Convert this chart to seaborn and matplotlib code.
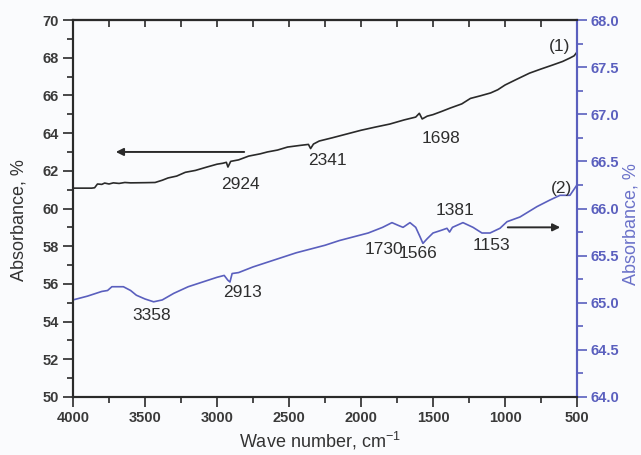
import matplotlib
matplotlib.use("Agg")
import matplotlib.pyplot as plt
import seaborn as sns
import pandas as pd
from matplotlib.ticker import MultipleLocator, FormatStrFormatter

# Spectrum (1): wavenumber (cm-1) and absorbance (%), left axis
wn_1 = [4000, 3870, 3850, 3830, 3800, 3780, 3750, 3720, 3680, 3640, 3600, 3500,
        3430, 3380, 3340, 3280, 3220, 3150, 3070, 3000, 2960, 2935, 2924, 2905,
        2850, 2780, 2700, 2650, 2580, 2510, 2420, 2365, 2350, 2330, 2290, 2200,
        2100, 2000, 1900, 1800, 1700, 1620, 1595, 1575, 1540, 1500, 1440, 1380,
        1300, 1240, 1170, 1100, 1050, 1000, 920, 830, 750, 670, 600, 550, 520, 500]
ab_1 = [61.08, 61.08, 61.10, 61.30, 61.28, 61.35, 61.30, 61.36, 61.33, 61.38, 61.36, 61.37,
        61.38, 61.50, 61.62, 61.72, 61.92, 62.02, 62.20, 62.35, 62.40, 62.45, 62.20, 62.50,
        62.58, 62.78, 62.90, 63.00, 63.10, 63.26, 63.35, 63.40, 63.18, 63.42, 63.58, 63.75,
        63.95, 64.15, 64.32, 64.48, 64.70, 64.85, 65.05, 64.75, 64.90, 64.98, 65.15, 65.33,
        65.55, 65.84, 65.98, 66.13, 66.30, 66.55, 66.85, 67.18, 67.40, 67.61, 67.80, 67.98, 68.10, 68.30]

# Spectrum (2): wavenumber (cm-1) and absorbance (%), right axis
wn_2 = [4000, 3900, 3800, 3760, 3730, 3650, 3600, 3560, 3500, 3440, 3380, 3300,
        3200, 3100, 3000, 2950, 2925, 2910, 2895, 2850, 2750, 2650, 2550, 2450,
        2350, 2250, 2150, 2050, 1950, 1850, 1785, 1740, 1708, 1660, 1620, 1590,
        1570, 1540, 1500, 1440, 1403, 1385, 1365, 1292, 1222, 1160, 1104, 1035,
        986, 896, 778, 688, 618, 549, 500]
ab_2 = [65.03, 65.07, 65.12, 65.13, 65.17, 65.17, 65.13, 65.08, 65.04, 65.01, 65.03, 65.10,
        65.17, 65.22, 65.27, 65.29, 65.24, 65.22, 65.31, 65.32, 65.38, 65.43, 65.48, 65.53,
        65.57, 65.61, 65.66, 65.70, 65.74, 65.80, 65.85, 65.82, 65.80, 65.85, 65.80, 65.70,
        65.63, 65.68, 65.74, 65.77, 65.79, 65.75, 65.80, 65.85, 65.80, 65.74, 65.74, 65.79,
        65.86, 65.91, 66.02, 66.09, 66.14, 66.14, 66.25]

# Band labels: text, wavenumber position, absorbance position
bands_1 = ["2924", "2341", "1698", "(1)"]
bands_1_x = [2840, 2236, 1445, 618]
bands_1_y = [61.25, 62.57, 63.74, 68.62]

bands_2 = ["3358", "2913", "1730", "1566", "1381", "1153", "(2)"]
bands_2_x = [3451, 2820, 1840, 1604, 1347, 1097, 611]
bands_2_y = [64.86, 65.11, 65.57, 65.52, 65.98, 65.61, 66.21]

BLUE = "#5a5fbe"
DARK = "#2a2a2a"
BG = "#fafbfd"

sns.set_theme(style="white")
plt.rcParams["font.family"] = ["Liberation Sans", "DejaVu Sans"]

df1 = pd.DataFrame({"wn": wn_1, "ab": ab_1})
df2 = pd.DataFrame({"wn": wn_2, "ab": ab_2})

fig = plt.figure(figsize=(6.41, 4.55), dpi=100, facecolor=BG)
ax = fig.add_axes([73 / 641, 1 - 397 / 455, 504 / 641, 377 / 455])
ax.set_facecolor(BG)
ax2 = ax.twinx()

sns.lineplot(data=df1, x="wn", y="ab", ax=ax, color=DARK, linewidth=1.2,
             sort=False, estimator=None)
sns.lineplot(data=df2, x="wn", y="ab", ax=ax2, color=BLUE, linewidth=1.2,
             sort=False, estimator=None)

ax.set_xlim(4000, 500)
ax.set_ylim(50, 70)
ax2.set_ylim(64.0, 68.0)

ax.xaxis.set_major_locator(MultipleLocator(500))
ax.xaxis.set_minor_locator(MultipleLocator(250))
ax.yaxis.set_major_locator(MultipleLocator(2))
ax.yaxis.set_minor_locator(MultipleLocator(1))
ax2.yaxis.set_major_locator(MultipleLocator(0.5))
ax2.yaxis.set_minor_locator(MultipleLocator(0.25))
ax2.yaxis.set_major_formatter(FormatStrFormatter("%.1f"))

ax.tick_params(axis="both", which="major", direction="out", length=7, width=1.2,
               color=DARK, labelcolor="#3a3a3a", pad=3, labelsize=10.5)
ax.tick_params(axis="both", which="minor", direction="out", length=4, width=1.2, color=DARK)
ax.tick_params(axis="y", which="both", left=True, right=False)
ax.tick_params(axis="x", which="both", bottom=True, top=False)
for lab in ax.get_xticklabels() + ax.get_yticklabels():
    lab.set_fontweight("bold")

ax2.tick_params(axis="y", which="major", direction="out", length=7, width=1.2,
                color=BLUE, labelcolor=BLUE, pad=3, labelsize=10.5)
ax2.tick_params(axis="y", which="minor", direction="out", length=4, width=1.2, color=BLUE)
for lab in ax2.get_yticklabels():
    lab.set_fontweight("bold")

# Inward ticks along the top edge
top = ax.secondary_xaxis("top")
top.xaxis.set_major_locator(MultipleLocator(250))
top.tick_params(axis="x", which="major", direction="in", length=5, width=1.2,
                color=DARK, labeltop=False)

for a in (ax, ax2):
    for side in ("left", "bottom", "top"):
        a.spines[side].set_color(DARK)
        a.spines[side].set_linewidth(1.5)
    a.spines["right"].set_color(BLUE)
    a.spines["right"].set_linewidth(1.5)
top.spines["top"].set_color(DARK)
top.spines["top"].set_linewidth(1.5)

ax.set_xlabel(r"Wave number, cm$^{\mathregular{-1}}$", fontsize=13, color="#333333")
ax.set_ylabel("Absorbance, %", fontsize=13, color="#333333")
ax2.set_ylabel("Absorbance, %", fontsize=13, color="#6b72c9")
ax.xaxis.set_label_coords(0.49, -0.088)
ax.yaxis.set_label_coords(-0.091, 0.47)
ax2.yaxis.set_label_coords(1.091, 0.46)

for t, x, y in zip(bands_1, bands_1_x, bands_1_y):
    ax.text(x, y, t, fontsize=12.5, color="#2e2e2e", ha="center", va="center")
for t, x, y in zip(bands_2, bands_2_x, bands_2_y):
    ax2.text(x, y, t, fontsize=12.5, color="#2e2e2e", ha="center", va="center")

# Arrows pointing each curve to its axis
ax.annotate("", xy=(3722, 63.0), xytext=(2792, 63.0),
            arrowprops=dict(arrowstyle="-|>", color=DARK, lw=1.4, mutation_scale=11))
ax2.annotate("", xy=(597, 65.8), xytext=(1000, 65.8),
             arrowprops=dict(arrowstyle="-|>", color=DARK, lw=1.4, mutation_scale=11))

fig.savefig("out.png", dpi=100, facecolor=BG)
